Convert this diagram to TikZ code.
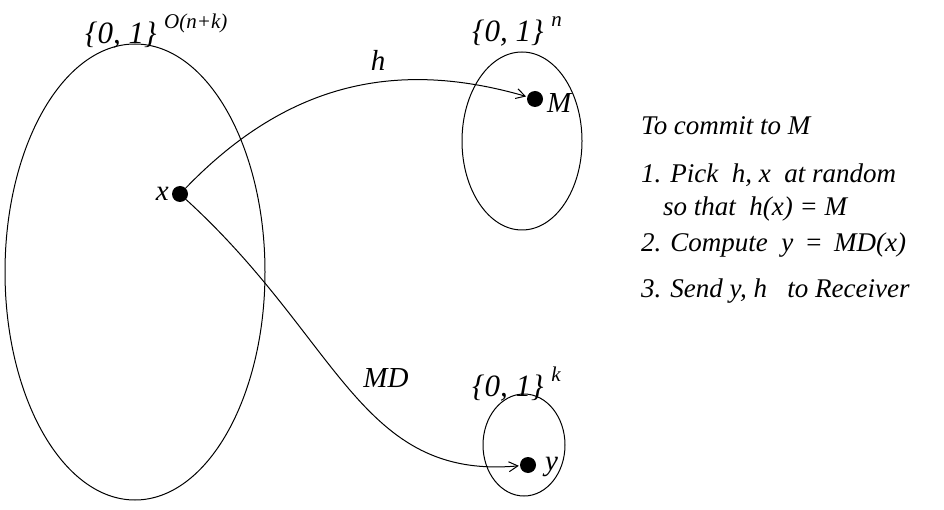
\documentclass[tikz,border=0pt]{standalone}
\usepackage{fontspec}
\setmainfont{Liberation Serif}
\usetikzlibrary{arrows.meta}
\newcommand{\supr}[1]{\raisebox{15pt}{\fontsize{21}{21}\selectfont\itshape #1}}
\begin{document}
\begin{tikzpicture}[x=1pt,y=-1pt,
  set/.style={draw,line width=1pt},
  pt/.style={circle,fill=black,inner sep=0pt,minimum size=16pt},
  lbl/.style={font=\fontsize{29}{32}\selectfont\itshape,inner sep=0pt},
  setlbl/.style={font=\fontsize{31}{34}\selectfont\itshape,inner sep=0pt,anchor=base west},
  txt/.style={font=\fontsize{27}{30}\selectfont\itshape,inner sep=0pt,anchor=base west},
  map/.style={line width=1pt,-{Straight Barb[length=9pt,width=10pt]},shorten >=1pt}]
\useasboundingbox (0,0) rectangle (944,510);
\draw[set] (135,272) ellipse [x radius=130,y radius=228];
\draw[set] (522,141) ellipse [x radius=60,y radius=89];
\draw[set] (524,445) ellipse [x radius=41,y radius=51];
\node[pt] (x) at (180,194) {};
\node[pt] (M) at (535,99) {};
\node[pt] (y) at (528,465) {};
\node[lbl,anchor=east] (xl) at (169,194) {x};
\node[lbl,anchor=west] (Ml) at (547,103) {M};
\node[lbl,anchor=west] (yl) at (545,467) {y};
\node[lbl] (hl) at (378,60) {h};
\node[lbl] (mdl) at (386,378) {MD};
\node[setlbl] (s1) at (85,44) {\{0, 1\}\ \supr{O(n+k)}};
\node[setlbl] (s2) at (472,42) {\{0, 1\}\ \supr{n}};
\node[setlbl] (s3) at (472,396) {\{0, 1\}\ \supr{k}};
\draw[map] (x) .. controls (290,80) and (400,60) .. (M);
\draw[map] (x) .. controls (340,340) and (360,480) .. (y);
\node[txt] (t0) at (641,135) {To commit to M};
\node[txt] (t1) at (641,183) {1. Pick \ h, x \ at random};
\node[txt] (t2) at (663,216) {so that \ h(x) = M};
\node[txt] (t3) at (641,252) {2. Compute \ y \,=\, MD(x)};
\node[txt] (t4) at (641,298) {3. Send y, h \ \ to Receiver};
\end{tikzpicture}
\end{document}
